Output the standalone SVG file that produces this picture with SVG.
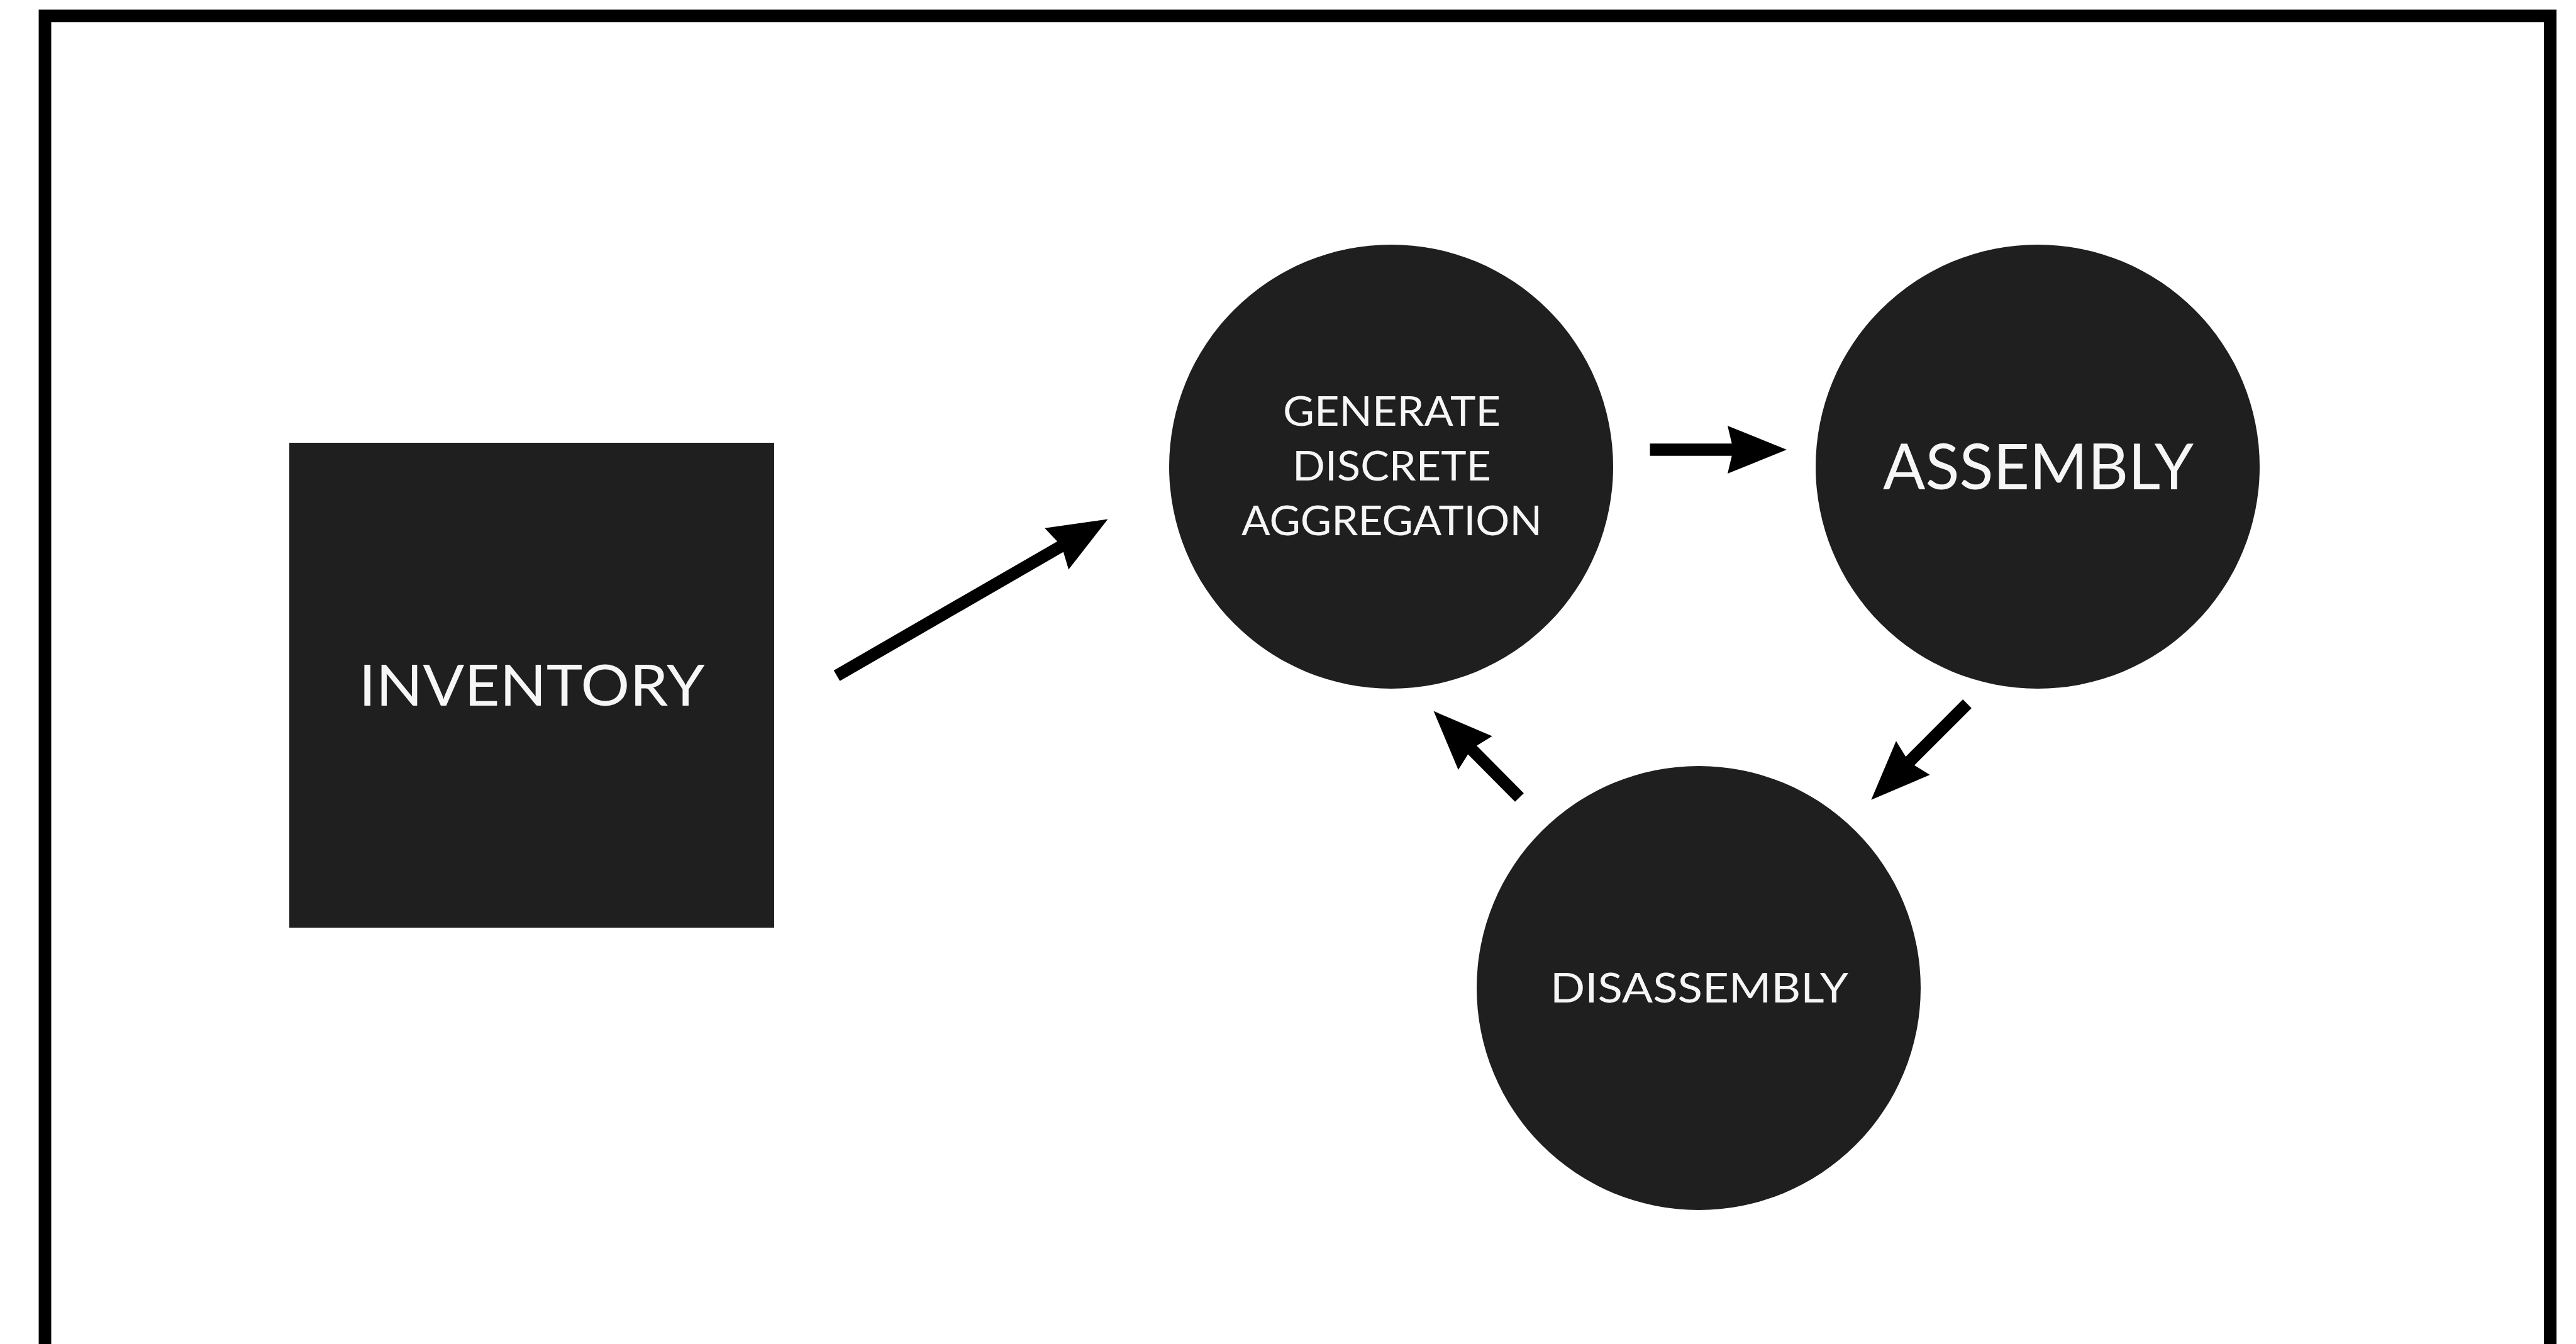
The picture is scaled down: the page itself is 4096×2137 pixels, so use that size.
<svg xmlns="http://www.w3.org/2000/svg" width="4096" height="2137" viewBox="0 0 4096 2137">
  <style>
    .frame { fill: none; stroke: #000; stroke-width: 19.9; }
    .node { fill: #1f1f1f; }
    .label { fill: #f6f6f6; font-family: Lato, "Open Sans", "Liberation Sans", sans-serif; font-weight: 400; text-anchor: middle; }
    .small { font-size: 65px; }
    .mid { font-size: 91px; }
    .big { font-size: 101px; }
    .edge { stroke: #000; stroke-width: 19.5; fill: none; marker-end: url(#head); }
  </style>
  <defs>
    <!-- swept-back arrowhead; the ref point sits at the notch -->
    <marker id="head" markerUnits="userSpaceOnUse" markerWidth="115" markerHeight="86" refX="20" refY="43" orient="auto">
      <path d="M104 43 L10 5 L19 43 L10 81 Z" fill="#000"/>
    </marker>
  </defs>

  <rect width="4096" height="2137" fill="#fff"/>
  <rect class="frame" x="71.5" y="25.3" width="3983.5" height="2200"/>

  <g id="inventory">
    <rect class="node" x="460" y="704" width="771" height="771"/>
    <text class="label mid" x="845.5" y="1122" textLength="550" lengthAdjust="spacingAndGlyphs">INVENTORY</text>
  </g>

  <g id="generate">
    <circle class="node" cx="2212" cy="742" r="353"/>
    <text class="label small" x="2213" y="677" textLength="346" lengthAdjust="spacingAndGlyphs">GENERATE</text>
    <text class="label small" x="2213" y="764" textLength="316" lengthAdjust="spacingAndGlyphs">DISCRETE</text>
    <text class="label small" x="2213" y="851" textLength="478" lengthAdjust="spacingAndGlyphs">AGGREGATION</text>
  </g>

  <g id="assembly">
    <circle class="node" cx="3240" cy="742" r="353"/>
    <text class="label big" x="3241" y="778" textLength="494" lengthAdjust="spacingAndGlyphs">ASSEMBLY</text>
  </g>

  <g id="disassembly">
    <circle class="node" cx="2701" cy="1571" r="353"/>
    <text class="label small" x="2702" y="1594" textLength="474" lengthAdjust="spacingAndGlyphs">DISASSEMBLY</text>
  </g>

  <g id="connectors">
    <line class="edge" x1="1330.6" y1="1074.4" x2="1688.8" y2="867.6"/>
    <line class="edge" x1="2623.5" y1="715" x2="2757" y2="715"/>
    <line class="edge" x1="3128" y1="1119" x2="3034.7" y2="1212.3"/>
    <line class="edge" x1="2416" y1="1268" x2="2338.7" y2="1190.2"/>
  </g>
</svg>
